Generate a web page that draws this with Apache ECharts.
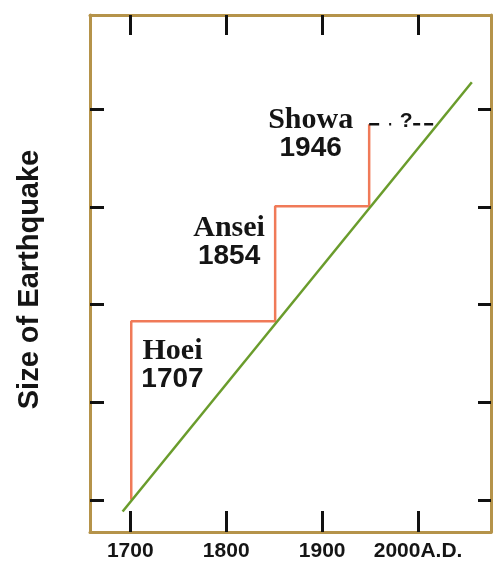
<!DOCTYPE html>
<html lang="en">
<head>
  <meta charset="UTF-8">
  <title>Size of Earthquake</title>
  <script src="https://cdn.jsdelivr.net/npm/echarts@6.0.0/dist/echarts.min.js"></script>
  <style>
    html, body { margin: 0; padding: 0; background: #ffffff; }
    #main { width: 493px; height: 562px; }
  </style>
</head>
<body>
  <div id="main"></div>
  <script>
    // ticks
    const xTicks = [1700, 1800, 1900, 2000];
    const yTicks = [0, 1, 2, 3, 4];

    // step line (cumulative slip released by each quake)
    const stepX = [1701, 1701, 1851, 1851, 1949, 1949];
    const stepY = [0, 1.83, 1.83, 3.01, 3.01, 3.85];

    // steady build-up line
    const trendX = [1692, 2056];
    const trendY = [-0.12, 4.28];

    // unknown future segment
    const unknownX = [1949, 2016];
    const unknownY = [3.85, 3.85];
    const unknownMarkX = [1987.5];
    const unknownMarkY = [3.88];

    // earthquake labels
    const quakeNames = ['Hoei', 'Ansei', 'Showa'];
    const quakeYears = ['1707', '1854', '1946'];
    const labelX = [1744, 1803, 1888];
    const labelY = [1.38, 2.64, 3.75];

    const frameColor = '#b5934a';
    const textColor = '#151515';
    const chart = echarts.init(document.getElementById('main'));

    function frameAxis(extra) {
      return Object.assign({
        type: 'value',
        axisLine: { show: true, onZero: false, lineStyle: { color: frameColor, width: 3 } },
        splitLine: { show: false },
        axisLabel: { show: false }
      }, extra);
    }

    const option = {
      animation: false,
      backgroundColor: '#ffffff',
      grid: { left: 90, right: 2, top: 15, bottom: 27, show: false },
      xAxis: [
        frameAxis({
          position: 'bottom', min: 1658, max: 2076,
          axisTick: { show: true, inside: true, length: 21, customValues: xTicks,
            lineStyle: { color: '#111', width: 3 } },
          axisLabel: {
            show: true, customValues: xTicks, margin: 9,
            fontFamily: 'Liberation Sans', fontWeight: 'bold', fontSize: 21, color: textColor,
            formatter: v => v === 2000 ? '2000A.D.' : String(v)
          }
        }),
        frameAxis({
          position: 'top', min: 1658, max: 2076,
          axisTick: { show: true, inside: true, length: 20, customValues: xTicks,
            lineStyle: { color: '#111', width: 3 } }
        })
      ],
      yAxis: [
        frameAxis({
          position: 'left', min: -0.33, max: 4.97,
          name: 'Size of Earthquake', nameLocation: 'middle', nameRotate: 90, nameGap: 46,
          nameTextStyle: { fontFamily: 'Liberation Sans', fontWeight: 'bold', fontSize: 29,
            color: textColor, padding: [0, 12, 0, 0] },
          axisTick: { show: true, inside: true, length: 14, customValues: yTicks,
            lineStyle: { color: '#111', width: 3 } }
        }),
        frameAxis({
          position: 'right', min: -0.33, max: 4.97,
          axisTick: { show: true, inside: true, length: 13, customValues: yTicks,
            lineStyle: { color: '#111', width: 3 } }
        })
      ],
      series: [
        {
          type: 'line',
          data: trendX.map((x, i) => [x, trendY[i]]),
          showSymbol: false,
          lineStyle: { color: '#6a9c2c', width: 2.5 },
          z: 3
        },
        {
          type: 'line',
          data: stepX.map((x, i) => [x, stepY[i]]),
          showSymbol: false,
          lineStyle: { color: '#f07a58', width: 2.5 },
          z: 2
        },
        {
          type: 'line',
          data: unknownX.map((x, i) => [x, unknownY[i]]),
          showSymbol: false,
          lineStyle: { color: '#111', width: 2.5, type: [10, 10, 2, 22, 7, 4, 9] },
          z: 2
        },
        {
          type: 'scatter',
          data: unknownMarkX.map((x, i) => [x, unknownMarkY[i]]),
          symbolSize: 0,
          itemStyle: { color: textColor, opacity: 1 },
          label: {
            show: true, position: 'inside', formatter: '?', opacity: 1,
            fontFamily: 'Liberation Sans', fontWeight: 'bold', fontSize: 21, color: textColor,
            textBorderWidth: 0
          },
          z: 4
        },
        {
          type: 'scatter',
          data: labelX.map((x, i) => [x, labelY[i]]),
          symbolSize: 0,
          itemStyle: { color: textColor, opacity: 1 },
          label: {
            show: true, position: 'inside', color: textColor, textBorderWidth: 0, opacity: 1,
            formatter: p => '{n|' + quakeNames[p.dataIndex] + '}\n{y|' + quakeYears[p.dataIndex] + '}',
            rich: {
              n: { fontFamily: 'Liberation Serif', fontWeight: 'bold', fontSize: 30, color: textColor, lineHeight: 28, align: 'center' },
              y: { fontFamily: 'Liberation Sans', fontWeight: 'bold', fontSize: 28, color: textColor, lineHeight: 28, align: 'center' }
            }
          },
          z: 4
        }
      ]
    };

    chart.setOption(option);
  </script>
</body>
</html>
